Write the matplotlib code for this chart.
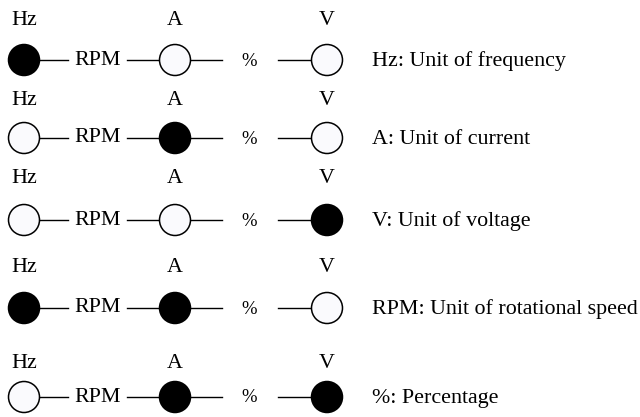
import matplotlib
matplotlib.use("Agg")
import matplotlib.pyplot as plt
from matplotlib.patches import Circle

# Indicator states per row (1 = lit / filled) for Hz, A, V
indicators = ["Hz", "A", "V"]
states = [
    [1, 0, 0],
    [0, 1, 0],
    [0, 0, 1],
    [1, 1, 0],
    [0, 1, 1],
]
descriptions = [
    "Hz: Unit of frequency",
    "A: Unit of current",
    "V: Unit of voltage",
    "RPM: Unit of rotational speed",
    "%: Percentage",
]
between_labels = ["RPM", "%"]

# Layout (pixel coordinates)
row_y = [60, 138, 220, 308, 397]
label_y = [20, 100, 178, 268, 363]
circle_x = [24, 175, 327]
r = 15.5
font = "Liberation Serif"
fs = 15.8

fig = plt.figure(figsize=(6.4, 4.17), dpi=100)
ax = fig.add_axes([0, 0, 1, 1])
ax.set_xlim(0, 640)
ax.set_ylim(417, 0)
ax.axis("off")

for i, row in enumerate(states):
    y = row_y[i]
    ly = label_y[i]
    for j, name in enumerate(indicators):
        ax.text(circle_x[j], ly, name, ha="center", va="center",
                fontsize=fs, family=font)
        face = "black" if row[j] else "#fafafd"
        ax.add_patch(Circle((circle_x[j], y), r, facecolor=face,
                            edgecolor="black", lw=1.1, zorder=3))
    # connecting lines and middle labels
    ax.plot([40, 68], [y, y], color="black", lw=1.0)
    ax.text(98, y, between_labels[0], ha="center", va="center",
            fontsize=fs, family=font)
    ax.plot([127, 160], [y, y], color="black", lw=1.0)
    ax.plot([190, 222], [y, y], color="black", lw=1.0)
    ax.text(249, y + 1, between_labels[1], ha="center", va="center",
            fontsize=fs * 0.85, family=font)
    ax.plot([278, 312], [y, y], color="black", lw=1.0)
    ax.text(372, y + 1, descriptions[i], ha="left", va="center",
            fontsize=fs, family=font)

fig.savefig("out.png", dpi=100)
